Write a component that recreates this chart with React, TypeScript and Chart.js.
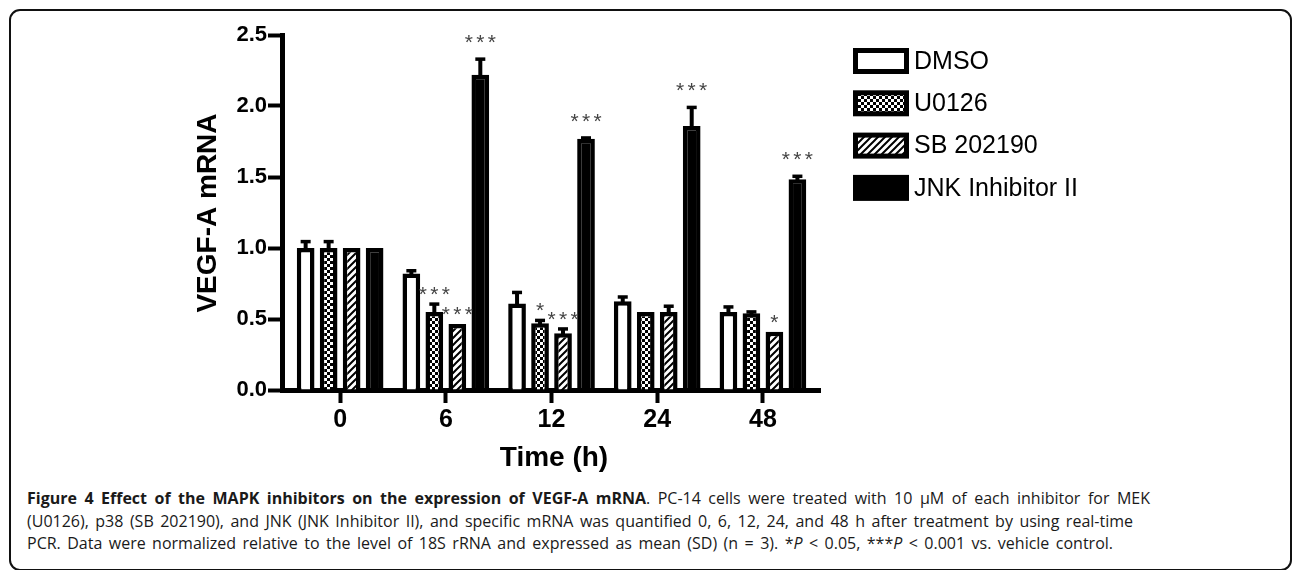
import React, { useEffect, useRef } from 'react';
import { Chart, registerables } from 'chart.js';
Chart.register(...registerables);

// ---------- data ----------
const TIME_LABELS = ['0', '6', '12', '24', '48'];
const SERIES_NAMES = ['DMSO', 'U0126', 'SB 202190', 'JNK Inhibitor II'];
const DMSO = [1.0, 0.82, 0.61, 0.625, 0.55];
const DMSO_SD = [0.045, 0.02, 0.077, 0.03, 0.035];
const U0126 = [1.0, 0.55, 0.47, 0.55, 0.54];
const U0126_SD = [0.045, 0.055, 0.02, 0, 0.01];
const SB202190 = [1.0, 0.465, 0.4, 0.55, 0.41];
const SB202190_SD = [0, 0, 0.03, 0.04, 0];
const JNK = [1.0, 2.22, 1.77, 1.86, 1.485];
const JNK_SD = [0, 0.11, 0.005, 0.13, 0.02];
const SIG_DMSO = ['', '', '', '', ''];
const SIG_U0126 = ['', '***', '*', '', ''];
const SIG_SB = ['', '***', '***', '', '*'];
const SIG_JNK = ['', '***', '***', '***', '***'];
const Y_MIN = 0;
const Y_MAX = 2.5;
const Y_STEP = 0.5;
const Y_TITLE = 'VEGF-A mRNA';
const X_TITLE = 'Time (h)';

const VALUES = [DMSO, U0126, SB202190, JNK];
const SDS = [DMSO_SD, U0126_SD, SB202190_SD, JNK_SD];
const SIGS = [SIG_DMSO, SIG_U0126, SIG_SB, SIG_JNK];

const FONT = '"Liberation Sans", Arial, Helvetica, sans-serif';

function makeChecker(): CanvasPattern | string {
  const c = document.createElement('canvas');
  c.width = 6; c.height = 6;
  const g = c.getContext('2d');
  if (!g) return '#777';
  g.fillStyle = '#000'; g.fillRect(0, 0, 6, 6);
  g.fillStyle = '#fff';
  g.fillRect(0, 0, 3, 3);
  g.fillRect(3, 3, 3, 3);
  return g.createPattern(c, 'repeat') as CanvasPattern;
}

function makeHatch(): CanvasPattern | string {
  const c = document.createElement('canvas');
  c.width = 7; c.height = 7;
  const g = c.getContext('2d');
  if (!g) return '#999';
  g.fillStyle = '#fff'; g.fillRect(0, 0, 7, 7);
  g.strokeStyle = '#000'; g.lineWidth = 2;
  g.beginPath();
  g.moveTo(-1, 8); g.lineTo(8, -1);
  g.moveTo(-4.5, 4.5); g.lineTo(4.5, -4.5);
  g.moveTo(2.5, 11.5); g.lineTo(11.5, 2.5);
  g.stroke();
  return g.createPattern(c, 'repeat') as CanvasPattern;
}

export default function App() {
  const ref = useRef<HTMLCanvasElement | null>(null);

  useEffect(() => {
    const canvas = ref.current;
    if (!canvas) return;
    const fills = ['#fff', makeChecker(), makeHatch(), '#000'];

    const overlay = {
      id: 'overlay',
      afterDatasetsDraw(chart: any) {
        const ctx = chart.ctx;
        const ys = chart.scales.y;
        VALUES.forEach((vals, di) => {
          const meta = chart.getDatasetMeta(di);
          meta.data.forEach((bar: any, i: number) => {
            const sd = SDS[di][i];
            if (!sd) return;
            const x = bar.x;
            const top = ys.getPixelForValue(vals[i]);
            const e = ys.getPixelForValue(vals[i] + sd);
            ctx.save();
            ctx.strokeStyle = '#000';
            ctx.lineWidth = 4;
            ctx.beginPath();
            ctx.moveTo(x, top + 2);
            ctx.lineTo(x, e);
            ctx.stroke();
            ctx.lineWidth = 3.5;
            ctx.beginPath();
            ctx.moveTo(x - 5, e);
            ctx.lineTo(x + 5, e);
            ctx.stroke();
            ctx.restore();
          });
        });
      },
      afterDraw(chart: any) {
        const ctx = chart.ctx;
        const ys = chart.scales.y;
        // significance stars
        ctx.save();
        ctx.fillStyle = '#444';
        ctx.font = `21px ${FONT}`;
        ctx.textAlign = 'center';
        ctx.textBaseline = 'alphabetic';
        SIGS.forEach((sig, di) => {
          const meta = chart.getDatasetMeta(di);
          meta.data.forEach((bar: any, i: number) => {
            const s = sig[i];
            if (!s) return;
            const topVal = VALUES[di][i] + SDS[di][i];
            const yTop = ys.getPixelForValue(topVal);
            const off = di === 3 ? 22 : 15;
            const cy = yTop - off;
            const n = s.length;
            for (let k = 0; k < n; k++) {
              const cx = bar.x + (k - (n - 1) / 2) * 11.5;
              ctx.fillText('*', cx, cy + 12);
            }
          });
        });
        ctx.restore();

        // legend
        ctx.save();
        SERIES_NAMES.forEach((name, i) => {
          const bx = 853, by = 48 + i * 42.3, bw = 56, bh = 26, bb = 5;
          ctx.fillStyle = '#000';
          ctx.fillRect(bx, by, bw, bh);
          ctx.fillStyle = fills[i] as any;
          ctx.fillRect(bx + bb, by + bb, bw - 2 * bb, bh - 2 * bb);
          ctx.fillStyle = '#000';
          ctx.font = `25px ${FONT}`;
          ctx.textAlign = 'left';
          ctx.textBaseline = 'middle';
          ctx.fillText(name, 914, by + bh / 2 + 1);
        });
        ctx.restore();

        // axis titles
        ctx.save();
        ctx.fillStyle = '#000';
        ctx.font = `bold 28px ${FONT}`;
        ctx.textAlign = 'center';
        ctx.textBaseline = 'middle';
        ctx.fillText(X_TITLE, 554, 458);
        ctx.translate(208, 213);
        ctx.rotate(-Math.PI / 2);
        ctx.fillText(Y_TITLE, 0, 0);
        ctx.restore();
      },
    };

    const chart = new Chart(canvas, {
      type: 'bar',
      data: {
        datasets: VALUES.map((vals, di) => ({
          label: SERIES_NAMES[di],
          data: vals.map((v, i) => ({ x: i, y: v })),
          backgroundColor: fills[di] as any,
          borderColor: '#000',
          borderWidth: 4.5,
          borderSkipped: 'start',
          categoryPercentage: 0.87,
          barPercentage: 0.77,
        })),
      },
      options: {
        responsive: false,
        animation: false,
        devicePixelRatio: 1,
        layout: { padding: { left: 0, top: 35, right: 1293 - 820, bottom: 0 } },
        plugins: { legend: { display: false }, tooltip: { enabled: false }, title: { display: false } },
        scales: {
          x: {
            type: 'linear',
            min: -0.55,
            max: 4.54,
            offset: false,
            z: 1,
            afterBuildTicks: (scale: any) => {
              scale.ticks = TIME_LABELS.map((_, i) => ({ value: i }));
            },
            afterFit: (scale: any) => { scale.height = 90; },
            grid: { display: true, drawOnChartArea: false, drawTicks: true, tickLength: 13, tickWidth: 4, tickColor: '#000', color: '#000', offset: false },
            border: { display: true, color: '#000', width: 5 },
            ticks: {
              color: '#000',
              padding: 2,
              maxRotation: 0,
              font: { family: FONT, size: 25, weight: 'bold' },
              callback: (v: any) => TIME_LABELS[Math.round(Number(v))] ?? '',
            },
          },
          y: {
            type: 'linear',
            min: Y_MIN,
            max: Y_MAX,
            z: 1,
            afterFit: (scale: any) => { scale.width = 282; },
            grid: { display: true, drawOnChartArea: false, drawTicks: true, tickLength: 14, tickWidth: 4, tickColor: '#000', color: '#000' },
            border: { display: true, color: '#000', width: 5 },
            ticks: {
              stepSize: Y_STEP,
              color: '#000',
              padding: 1,
              font: { family: FONT, size: 22, weight: 'bold' },
              callback: (v: any) => Number(v).toFixed(1),
            },
          },
        },
      },
      plugins: [overlay],
    } as any);
    return () => chart.destroy();
  }, []);

  const capLine: React.CSSProperties = {
    position: 'absolute',
    left: 27,
    height: 22,
    lineHeight: '22px',
    fontFamily: '"Open Sans", "Noto Sans", sans-serif',
    fontSize: 16,
    color: '#1a1a1a',
    textAlign: 'justify',
    textAlignLast: 'justify' as any,
    whiteSpace: 'nowrap',
  };

  return (
    <div style={{ position: 'absolute', left: 0, top: 0, width: 1293, height: 570, overflow: 'hidden', background: '#fff' }}>
      <div style={{ position: 'absolute', left: 9, top: 9, width: 1283, height: 562, border: '2px solid #111', borderRadius: 11, boxSizing: 'border-box' }} />
      <canvas ref={ref} width={1293} height={480} style={{ position: 'absolute', left: 0, top: 0, width: 1293, height: 480 }} />
      <div style={{ ...capLine, top: 487, width: 1123 }}>
        <b>Figure 4 Effect of the MAPK inhibitors on the expression of VEGF-A mRNA</b>. PC-14 cells were treated with 10 μM of each inhibitor for MEK
      </div>
      <div style={{ ...capLine, top: 510, width: 1106 }}>
        (U0126), p38 (SB 202190), and JNK (JNK Inhibitor II), and specific mRNA was quantified 0, 6, 12, 24, and 48 h after treatment by using real-time
      </div>
      <div style={{ ...capLine, top: 532, width: 1086 }}>
        PCR. Data were normalized relative to the level of 18S rRNA and expressed as mean (SD) (n = 3). *<i>P</i> &lt; 0.05, ***<i>P</i> &lt; 0.001 vs. vehicle control.
      </div>
    </div>
  );
}
